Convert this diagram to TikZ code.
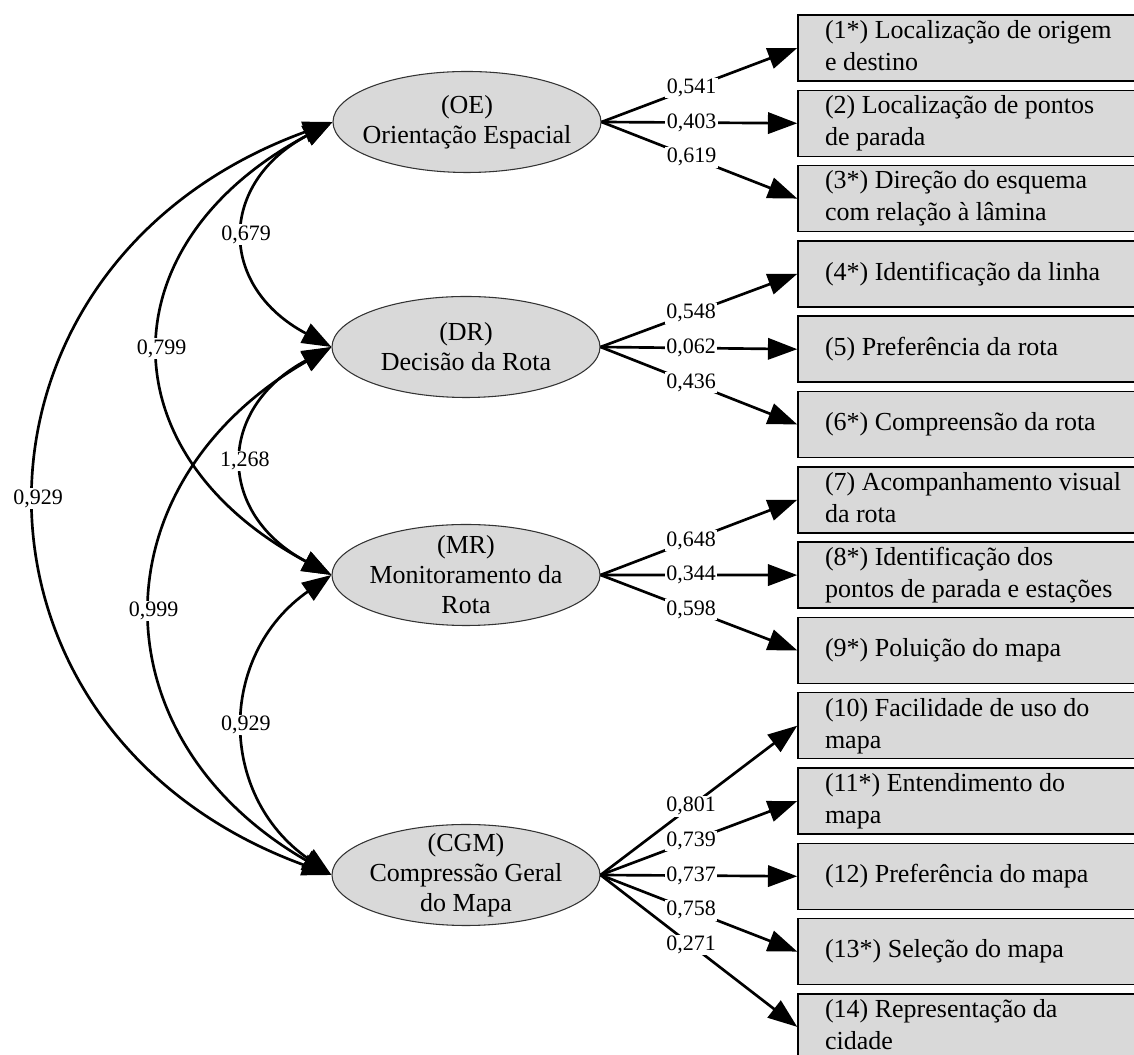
\documentclass[tikz,border=0pt]{standalone}
\usepackage{fontspec}
\setmainfont{Liberation Serif}
\usetikzlibrary{arrows.meta,shapes.geometric}
\definecolor{boxgray}{RGB}{217,217,217}
\newcommand{\itxt}[1]{\makebox[213pt][l]{\begin{tabular}{@{}l@{}}#1\end{tabular}}}
\begin{document}
\begin{tikzpicture}[x=0.75pt,y=0.75pt,
  lat/.style={ellipse, draw=black!80, line width=0.8pt, fill=boxgray,
    minimum width=201pt, minimum height=75.75pt, inner sep=0pt},
  lattxt/.style={align=center, font=\fontsize{19.5pt}{22.5pt}\selectfont, inner sep=0pt},
  item/.style={rectangle, draw=black, line width=1.1pt, fill=boxgray,
    minimum width=253.5pt, minimum height=49.5pt, inner xsep=0pt, inner ysep=0pt,
    font=\fontsize{19.5pt}{24pt}\selectfont},
  coef/.style={fill=white, inner sep=1pt, font=\fontsize{16.5pt}{18pt}\selectfont},
  load/.style={line width=2pt, -{Triangle[length=22pt,width=16pt]}},
  cov/.style={line width=2pt, {Triangle[length=22pt,width=16pt]}-{Triangle[length=22pt,width=16pt]}},
]
\useasboundingbox (0,0) rectangle (1134,1055);

% latent variables
\node[lat] (OE) at (467,933) {};
\node[lat] (DR) at (466,708) {};
\node[lat] (MR) at (466,480) {};
\node[lat] (CGM) at (466,180) {};
\node[lattxt] (OEt) at (OE) {(OE)\\Orientação Espacial};
\node[lattxt] (DRt) at (DR) {(DR)\\Decisão da Rota};
\node[lattxt] (MRt) at (MR) {(MR)\\Monitoramento da\\Rota};
\node[lattxt] (CGMt) at (CGM) {(CGM)\\Compressão Geral\\do Mapa};

% observed items
\node[item] (b1) at (967,1007) {\itxt{(1*) Localização de origem\\e destino}};
\node[item] (b2) at (967,931.7) {\itxt{(2) Localização de pontos\\de parada}};
\node[item] (b3) at (967,856.4) {\itxt{(3*) Direção do esquema\\com relação à lâmina}};
\node[item] (b4) at (967,781.1) {\itxt{(4*) Identificação da linha}};
\node[item] (b5) at (967,705.8) {\itxt{(5) Preferência da rota}};
\node[item] (b6) at (967,630.5) {\itxt{(6*) Compreensão da rota}};
\node[item] (b7) at (967,555.2) {\itxt{(7) Acompanhamento visual\\da rota}};
\node[item] (b8) at (967,479.9) {\itxt{(8*) Identificação dos\\pontos de parada e estações}};
\node[item] (b9) at (967,404.6) {\itxt{(9*) Poluição do mapa}};
\node[item] (b10) at (967,329.3) {\itxt{(10) Facilidade de uso do\\mapa}};
\node[item] (b11) at (967,254) {\itxt{(11*) Entendimento do\\mapa}};
\node[item] (b12) at (967,178.7) {\itxt{(12) Preferência do mapa}};
\node[item] (b13) at (967,103.4) {\itxt{(13*) Seleção do mapa}};
\node[item] (b14) at (967,28.1) {\itxt{(14) Representação da\\cidade}};

% loadings
\draw[load] (OE.east) -- node[coef,pos=0.46]{0,541} (b1.west);
\draw[load] (OE.east) -- node[coef,pos=0.46]{0,403} (b2.west);
\draw[load] (OE.east) -- node[coef,pos=0.46]{0,619} (b3.west);
\draw[load] (DR.east) -- node[coef,pos=0.46]{0,548} (b4.west);
\draw[load] (DR.east) -- node[coef,pos=0.46]{0,062} (b5.west);
\draw[load] (DR.east) -- node[coef,pos=0.46]{0,436} (b6.west);
\draw[load] (MR.east) -- node[coef,pos=0.46]{0,648} (b7.west);
\draw[load] (MR.east) -- node[coef,pos=0.46]{0,344} (b8.west);
\draw[load] (MR.east) -- node[coef,pos=0.46]{0,598} (b9.west);
\draw[load] (CGM.east) -- node[coef,pos=0.46]{0,801} (b10.west);
\draw[load] (CGM.east) -- node[coef,pos=0.46]{0,739} (b11.west);
\draw[load] (CGM.east) -- node[coef,pos=0.46]{0,737} (b12.west);
\draw[load] (CGM.east) -- node[coef,pos=0.46]{0,758} (b13.west);
\draw[load] (CGM.east) -- node[coef,pos=0.46]{0,271} (b14.west);

% covariances
\draw[cov] (OE.west) to[out=208,in=152,looseness=1.47] node[coef,midway]{0,679} (DR.west);
\draw[cov] (OE.west) to[out=208,in=152,looseness=1.45] node[coef,midway]{0,799} (MR.west);
\draw[cov] (DR.west) to[out=208,in=152,looseness=1.47] node[coef,midway]{1,268} (MR.west);
\draw[cov] (OE.west) to[out=200,in=160,looseness=1.42] node[coef,midway]{0,929} (CGM.west);
\draw[cov] (DR.west) to[out=210,in=150,looseness=1.33] node[coef,midway]{0,999} (CGM.west);
\draw[cov] (MR.west) to[out=215,in=145,looseness=1.19] node[coef,midway]{0,929} (CGM.west);
\end{tikzpicture}
\end{document}
